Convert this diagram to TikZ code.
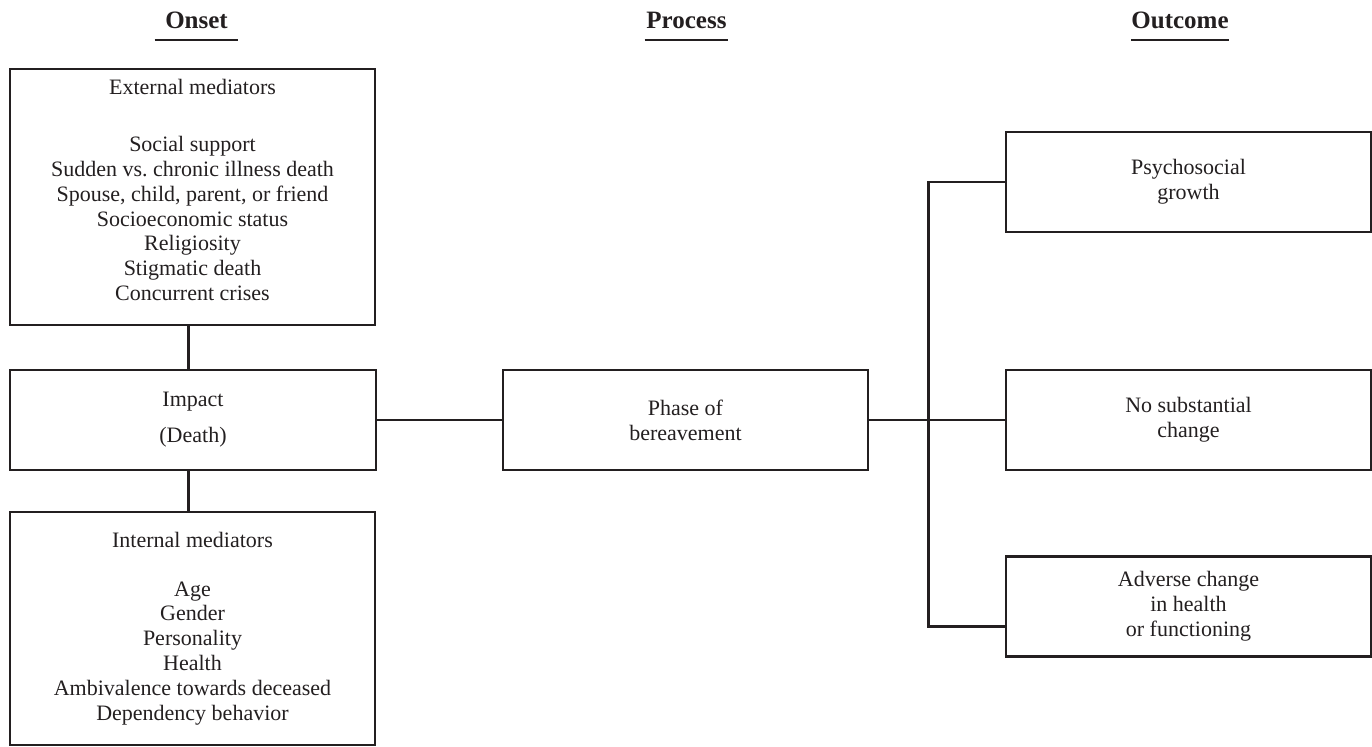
\documentclass[tikz,border=0pt]{standalone}
\usepackage{fontspec}
\setmainfont{Liberation Serif}
\usepackage{tikz}
\usepackage{xcolor}
\definecolor{myink}{RGB}{35,31,32}
\tikzset{
  mybox/.style={draw=myink, line width=1.4pt, minimum width=182.5pt, minimum height=50pt,
    align=center, inner sep=2pt, text=myink, font=\fontsize{11}{12.4}\selectfont},
  myhead/.style={font=\fontsize{12.5}{14}\selectfont\bfseries, text=myink,
    minimum width=41.5pt, inner sep=0pt, anchor=base},
  myline/.style={draw=myink, line width=1.4pt}
}

\begin{document}
\begin{tikzpicture}[x=0.5pt,y=-0.5pt]
    \useasboundingbox (0,0) rectangle (1372,747);
    % column headings
    \foreach \n/\x/\t in {onset/196.5/Onset, process/686.5/Process, outcome/1180/Outcome} {
      \node[myhead] (\n) at (\x,29) {\t};
      \draw[myline] ([yshift=-5.5pt]\n.base west) -- ([yshift=-5.5pt]\n.base east);
    }
    % onset
    \node[mybox, minimum height=128pt, text depth=7pt] (ext) at (192.5,197) {External mediators\\[16pt]
      Social support\\ Sudden vs.\ chronic illness death\\ Spouse, child, parent, or friend\\
      Socioeconomic status\\ Religiosity\\ Stigmatic death\\ Concurrent crises};
    \node[mybox, minimum width=183pt] (impact) at (193,420) {Impact\\[5.6pt] (Death)};
    \node[mybox, minimum height=116.5pt] (int) at (192.5,628.5) {Internal mediators\\[12pt]
      Age\\ Gender\\ Personality\\ Health\\ Ambivalence towards deceased\\ Dependency behavior};
    % process
    \node[mybox] (phase) at (685.5,420) {Phase of\\ bereavement};
    % outcome
    \node[mybox] (growth) at (1188.5,182) {Psychosocial\\ growth};
    \node[mybox] (nochange) at (1188.5,420) {No substantial\\ change};
    \node[mybox] (adverse) at (1188.5,606.5) {Adverse change\\ in health\\ or functioning};
    \coordinate (bus) at ([xshift=29.5pt]phase.east);
    \coordinate (advin) at ([yshift=-10pt]adverse.west);
    % connectors
    \draw[myline] ([xshift=-2pt]ext.south) -- ([xshift=-2pt]ext.south |- impact.north);
    \draw[myline] ([xshift=-2pt]int.north) -- ([xshift=-2pt]int.north |- impact.south);
    \draw[myline] (impact.east) -- (phase.west);
    \draw[myline] (phase.east) -- (nochange.west);
    \draw[myline] (growth.west) -| (bus) |- (advin);
  \end{tikzpicture}
\end{document}
